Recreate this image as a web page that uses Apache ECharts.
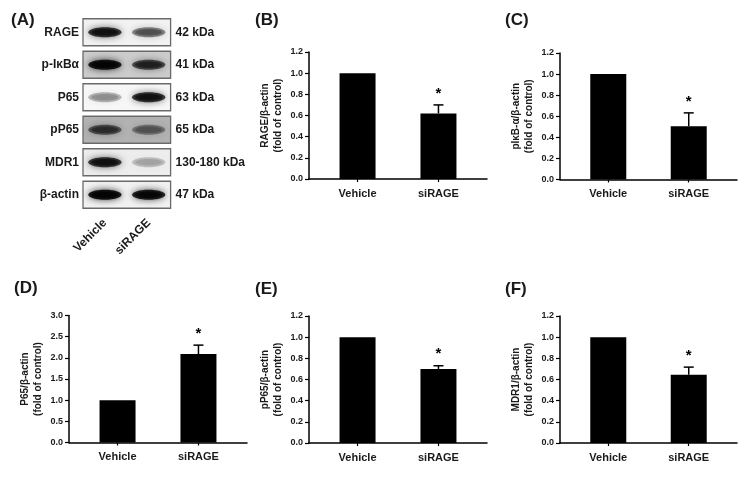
<!DOCTYPE html>
<html><head><meta charset="utf-8">
<script src="https://cdn.jsdelivr.net/npm/echarts@6/dist/echarts.min.js"></script>
<style>html,body{margin:0;padding:0;background:#fff}#c{width:750px;height:477px}</style>
</head><body><div id="c"></div>
<script>
// ---- data ----
const categories = ['Vehicle', 'siRAGE'];
const blotRows = ['RAGE', 'p-IκBα', 'P65', 'pP65', 'MDR1', 'β-actin'];
const blotKDa = ['42 kDa', '41 kDa', '63 kDa', '65 kDa', '130-180 kDa', '47 kDa'];
const bandVehicle = [0.85, 0.98, 0.3, 0.6, 0.85, 1.0];
const bandSiRAGE = [0.5, 0.7, 0.85, 0.4, 0.22, 0.95];
const blotBackground = [0.05, 0.2, 0.03, 0.3, 0.07, 0.05];

const rageValues = [1.0, 0.62];   const rageErr = [0, 0.08];
const pIkbValues = [1.0, 0.505];  const pIkbErr = [0, 0.127];
const p65Values  = [1.0, 2.09];   const p65Err  = [0, 0.21];
const pp65Values = [1.0, 0.70];   const pp65Err = [0, 0.03];
const mdr1Values = [1.0, 0.645];  const mdr1Err = [0, 0.072];
const significant = [false, true];

const foldTicks = [0, 0.2, 0.4, 0.6, 0.8, 1.0, 1.2];
const p65Ticks = [0, 0.5, 1.0, 1.5, 2.0, 2.5, 3.0];

const yNames = ['RAGE/β-actin', 'pIκB-α/β-actin', 'P65/β-actin', 'pP65/β-actin', 'MDR1/β-actin'];
const panelLetters = ['(A)', '(B)', '(C)', '(D)', '(E)', '(F)'];

// ---- layout ----
const FONT = '"Liberation Sans", Arial, sans-serif';
const TXT = '#1a1a1a';
const barPanels = [
  {vals: rageValues, err: rageErr, ticks: foldTicks, name: yNames[0], grid: {left: 309, top: 52, width: 178, height: 127}},
  {vals: pIkbValues, err: pIkbErr, ticks: foldTicks, name: yNames[1], grid: {left: 560, top: 53, width: 177, height: 126.5}},
  {vals: p65Values,  err: p65Err,  ticks: p65Ticks,  name: yNames[2], grid: {left: 69,  top: 315.5, width: 178, height: 127}},
  {vals: pp65Values, err: pp65Err, ticks: foldTicks, name: yNames[3], grid: {left: 309, top: 316, width: 178, height: 127}},
  {vals: mdr1Values, err: mdr1Err, ticks: foldTicks, name: yNames[4], grid: {left: 560, top: 316, width: 177, height: 127}}
];
const letterPos = [[6, 7], [250, 7], [500, 7], [9, 275], [250, 276], [500, 276]];

const grids = [{left: 83, top: 16, width: 87.6, height: 195}];
const xAxes = [{
  gridIndex: 0, type: 'category', data: categories,
  axisLine: {show: false}, axisTick: {show: false},
  axisLabel: {rotate: 45, margin: 10, fontFamily: FONT, fontWeight: 'bold', fontSize: 12, color: TXT}
}];
const yAxes = [
  {gridIndex: 0, type: 'category', data: blotRows, inverse: true,
   axisLine: {show: false}, axisTick: {show: false}, splitLine: {show: false},
   axisLabel: {margin: 4, fontFamily: FONT, fontWeight: 'bold', fontSize: 12, color: TXT}},
  {gridIndex: 0, type: 'category', data: blotKDa, inverse: true, position: 'right',
   axisLine: {show: false}, axisTick: {show: false}, splitLine: {show: false},
   axisLabel: {margin: 5, fontFamily: FONT, fontWeight: 'bold', fontSize: 12, color: TXT}}
];

const series = [
  { // blot frames
    type: 'custom', xAxisIndex: 0, yAxisIndex: 0,
    data: blotRows.map((r, i) => [0, i, blotBackground[i]]),
    renderItem: function (params, api) {
      const cs = params.coordSys;
      const y = api.coord([0, api.value(1)])[1];
      const h = api.size([0, 1])[1] * 0.83;
      return {type: 'rect', shape: {x: cs.x, y: y - h / 2, width: cs.width, height: h},
        style: {fill: 'rgba(0,0,0,' + api.value(2) + ')', stroke: '#6a6a6a', lineWidth: 1.3}};
    }
  },
  { // blot bands
    type: 'custom', xAxisIndex: 0, yAxisIndex: 0,
    data: blotRows.map((r, i) => [0, i, bandVehicle[i]]).concat(blotRows.map((r, i) => [1, i, bandSiRAGE[i]])),
    renderItem: function (params, api) {
      const c = api.coord([api.value(0), api.value(1)]);
      const w = api.size([1, 0])[0] * 0.76;
      const a = api.value(2);
      const col = 'rgba(0,0,0,' + (a * 0.85).toFixed(3) + ')';
      return {type: 'group', children: [
        {type: 'ellipse', shape: {cx: c[0], cy: c[1], rx: w / 2, ry: 5},
          style: {fill: col, shadowBlur: 7, shadowColor: col}},
        {type: 'ellipse', shape: {cx: c[0], cy: c[1], rx: w / 2 - 3, ry: 3.2},
          style: {fill: 'rgba(0,0,0,' + (a * 0.5).toFixed(3) + ')', shadowBlur: 3, shadowColor: col}}
      ]};
    }
  }
];

barPanels.forEach((p, k) => {
  const gi = k + 1;
  grids.push(p.grid);
  xAxes.push({
    gridIndex: gi, type: 'value', min: -0.6, max: 1.6,
    axisLine: {show: true, onZero: false, lineStyle: {color: '#000', width: 1.5}},
    axisTick: {show: true, customValues: [0, 1], length: 3, lineStyle: {color: '#000', width: 1.2}},
    axisLabel: {customValues: [0, 1], formatter: v => categories[Math.round(v)], margin: 9,
      fontFamily: FONT, fontWeight: 'bold', fontSize: 11, color: TXT},
    splitLine: {show: false}
  });
  const t = p.ticks;
  yAxes.push({
    gridIndex: gi, type: 'value', min: t[0], max: t[t.length - 1], interval: t[1] - t[0],
    name: p.name + '\n(fold of control)', nameLocation: 'middle', nameGap: 24,
    nameTextStyle: {fontFamily: FONT, fontWeight: 'bold', fontSize: 10, color: TXT, lineHeight: 13},
    axisLine: {show: true, onZero: false, lineStyle: {color: '#000', width: 1.5}},
    axisTick: {show: true, length: 4, lineStyle: {color: '#000', width: 1.2}},
    axisLabel: {margin: 6, formatter: v => v.toFixed(1), fontFamily: FONT, fontWeight: 'bold', fontSize: 9, color: TXT},
    splitLine: {show: false}
  });
  series.push({
    type: 'bar', xAxisIndex: gi, yAxisIndex: gi + 1,
    data: p.vals.map((v, i) => [i, v]), barWidth: 36,
    itemStyle: {color: '#000'}, silent: true
  });
  series.push({
    type: 'custom', xAxisIndex: gi, yAxisIndex: gi + 1,
    data: p.vals.map((v, i) => [i, v, p.err[i], significant[i] ? 1 : 0]),
    renderItem: function (params, api) {
      const e = api.value(2);
      const children = [];
      const top = api.coord([api.value(0), api.value(1) + e]);
      const base = api.coord([api.value(0), api.value(1)]);
      if (e > 0) {
        children.push({type: 'line', shape: {x1: base[0], y1: base[1], x2: top[0], y2: top[1]}, style: {stroke: '#000', lineWidth: 1.5}});
        children.push({type: 'line', shape: {x1: top[0] - 5, y1: top[1], x2: top[0] + 5, y2: top[1]}, style: {stroke: '#000', lineWidth: 1.5}});
      }
      if (api.value(3)) {
        children.push({type: 'text', style: {text: '*', x: top[0], y: top[1] - 4, align: 'center', verticalAlign: 'bottom',
          font: 'bold 15px ' + FONT, fill: '#000'}});
      }
      return {type: 'group', children: children};
    }
  });
});

const titles = panelLetters.map((l, i) => ({text: l, left: letterPos[i][0], top: letterPos[i][1],
  textStyle: {fontFamily: FONT, fontWeight: 'bold', fontSize: 17, color: TXT}}));

const chart = echarts.init(document.getElementById('c'), null, {renderer: 'canvas'});
chart.setOption({
  animation: false, backgroundColor: '#fff',
  title: titles, grid: grids, xAxis: xAxes, yAxis: yAxes, series: series
});
</script></body></html>
